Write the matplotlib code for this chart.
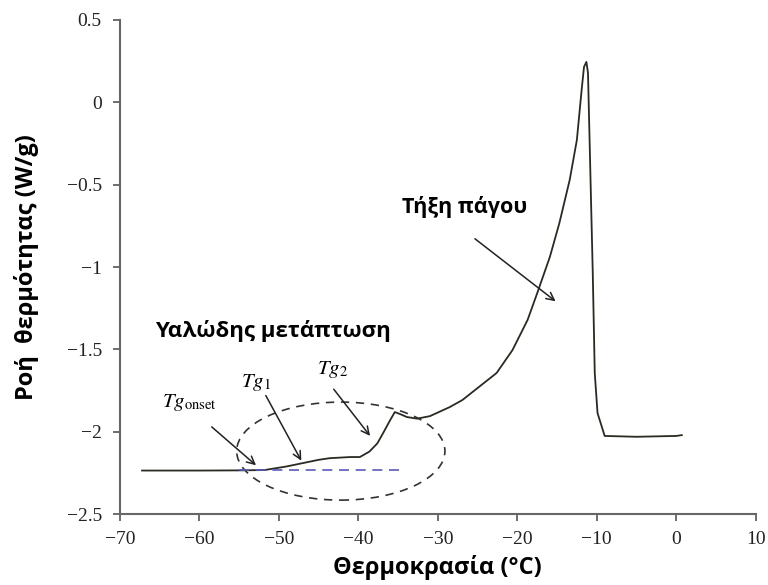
import matplotlib
matplotlib.use("Agg")
import matplotlib.pyplot as plt
from matplotlib.patches import Ellipse

# DSC curve
temp = [-67.2, -60, -55, -51.8, -49, -47.0, -45, -43.6, -41, -39.8, -38.6,
        -37.6, -36.9, -36.0, -35.4, -34.6, -33.9, -32.6, -31.0, -28.5, -26.9,
        -22.6, -20.6, -18.7, -17.5, -15.9, -14.7, -13.4, -12.5, -11.9, -11.6,
        -11.3, -11.1, -10.9, -10.5, -10.25, -9.9, -9.0, -5, 0, 0.7]
heat = [-2.235, -2.235, -2.234, -2.232, -2.21, -2.19, -2.17, -2.16, -2.153,
        -2.153, -2.12, -2.07, -2.01, -1.93, -1.88, -1.895, -1.91, -1.92, -1.905,
        -1.85, -1.807, -1.643, -1.504, -1.321, -1.16, -0.939, -0.733, -0.471,
        -0.229, 0.075, 0.215, 0.245, 0.178, -0.229, -1.036, -1.643, -1.886,
        -2.025, -2.03, -2.025, -2.02]

xticks = [-70, -60, -50, -40, -30, -20, -10, 0, 10]
xlabels = ["\u221270", "\u221260", "\u221250", "\u221240", "\u221230",
           "\u221220", "\u221210", "0", "10"]
yticks = [0.5, 0, -0.5, -1, -1.5, -2, -2.5]
ylabels = ["0.5", "0", "\u22120.5", "\u22121", "\u22121.5", "\u22122", "\u22122.5"]

baseline_x = [-55, -34.2]
baseline_y = [-2.232, -2.232]

fig = plt.figure(figsize=(7.68, 5.85), dpi=100)
ax = fig.add_axes([0.156, 0.121, 0.828, 0.845])

ax.plot(temp, heat, color="#2a2a22", lw=1.3)
ax.plot(baseline_x, baseline_y, color="#5a5ab8", lw=1.2, ls=(0, (6, 4)))

ell = Ellipse((-42.2, -2.117), 26.2, 0.595, fill=False, ls=(0, (5, 4)),
              lw=1.2, edgecolor="#333333")
ax.add_patch(ell)

serif = "Liberation Serif"
bold = dict(family="Open Sans", fontweight="bold")
arr = dict(arrowstyle="->", color="#222222", lw=1.1, mutation_scale=14)

ax.text(-64.7, -1.825, "$Tg_{\\mathrm{onset}}$", family=serif, fontsize=15,
        va="center", math_fontfamily="stix")
ax.text(-52.9, -1.70, "$Tg_1$", family=serif, fontsize=15, ha="center",
        va="center", math_fontfamily="stix")
ax.text(-43.3, -1.62, "$Tg_2$", family=serif, fontsize=15, ha="center",
        va="center", math_fontfamily="stix")

ax.annotate("", xy=(-52.6, -2.214), xytext=(-58.7, -1.959), arrowprops=arr)
ax.annotate("", xy=(-47.0, -2.19), xytext=(-51.8, -1.765), arrowprops=arr)
ax.annotate("", xy=(-38.3, -2.038), xytext=(-43.3, -1.728), arrowprops=arr)
ax.annotate("", xy=(-14.9, -1.218), xytext=(-25.6, -0.818), arrowprops=arr)

ax.text(-65.6, -1.388, "Υαλώδης μετάπτωση", fontsize=16, va="center", **bold)
ax.text(-34.5, -0.635, "Τήξη πάγου", fontsize=15.5, va="center", **bold)

ax.set_xlim(-70, 10)
ax.set_ylim(-2.5, 0.5)
ax.set_xticks(xticks)
ax.set_xticklabels(xlabels, family=serif, fontsize=14, color="#222222")
ax.set_yticks(yticks)
ax.set_yticklabels(ylabels, family=serif, fontsize=14, color="#222222")

for s in ["top", "right"]:
    ax.spines[s].set_visible(False)
for s in ["left", "bottom"]:
    ax.spines[s].set_color("#666666")
    ax.spines[s].set_linewidth(1.5)
ax.tick_params(direction="out", length=5, width=1.2, color="#555555")
ax.tick_params(axis="x", pad=7)
ax.tick_params(axis="y", pad=8)

ax.set_xlabel("Θερμοκρασία (°C)", fontsize=17, **bold)
ax.set_ylabel("Ροή  θερμότητας (W/g)", fontsize=17, **bold)
ax.xaxis.set_label_coords(0.5, -0.107)
ax.xaxis.label.set_va("center")
ax.yaxis.set_label_coords(-0.146, 0.5)
ax.yaxis.label.set_va("center")

fig.savefig("out.png", dpi=100)
